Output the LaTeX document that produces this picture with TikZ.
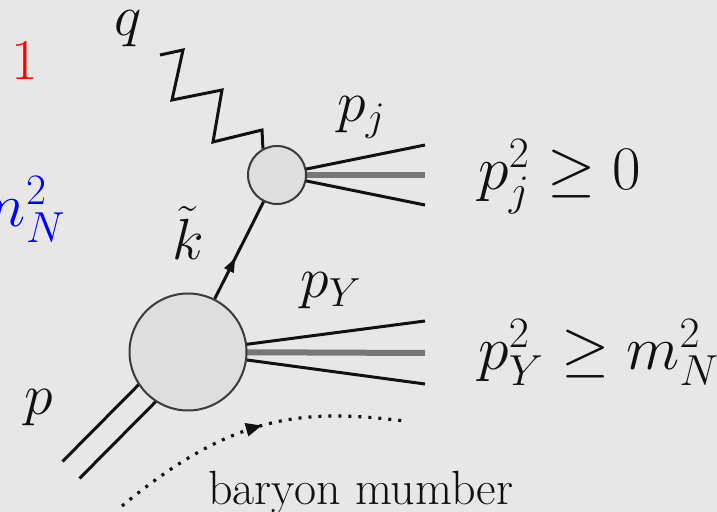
\documentclass[tikz,border=0pt]{standalone}
\usepackage{fix-cm}
\usetikzlibrary{arrows.meta,decorations.markings,calc}
\definecolor{paper}{HTML}{E7E7E7}
\definecolor{blobfill}{HTML}{DEDEDE}
\definecolor{blobline}{HTML}{3A3A3A}
\definecolor{core}{HTML}{777777}
\definecolor{ink}{HTML}{111111}

\begin{document}
\begin{tikzpicture}[
  x=0.5pt, y=-0.5pt, color=ink,
  lbl/.style={inner sep=0pt, anchor=base, font=\fontsize{29}{34}\selectfont},
  cut/.style={lbl, anchor=base west, font=\fontsize{31}{36}\selectfont},
  blob/.style={circle, draw=blobline, fill=blobfill, line width=1pt, inner sep=0pt},
  leg/.style={line width=1.5pt},
  coreleg/.style={line width=3pt, color=core},
  fermion/.style={leg, postaction={decorate}, decoration={markings,
      mark=at position 0.42 with {\arrow{Triangle[length=7pt,width=5pt]}}}},
  flow/.style={line width=1.6pt, dash pattern=on 1.5pt off 3.5pt,
      postaction={decorate}, decoration={markings,
      mark=at position 0.53 with {\arrow{Triangle[length=8pt,width=6.5pt]}}}},
]
\useasboundingbox (0,0) rectangle (717,512);
\clip (0,0) rectangle (717,512);
\fill[paper] (0,0) rectangle (717,512);

% centres and free ends
\coordinate (jc) at (277,175);
\coordinate (yc) at (188,352);
\coordinate (jtop) at (425,145);
\coordinate (jmid) at (425,175);
\coordinate (jbot) at (425,205);
\coordinate (ytop) at (425,321);
\coordinate (ymid) at (425,353);
\coordinate (ybot) at (425,384);
\coordinate (pin) at (71,470);
\coordinate (qin) at (160,55);
\coordinate (bstart) at (122,506);
\coordinate (bend) at (405,421);

% legs, hidden under the blobs
\draw[leg] (jc) -- (jtop);
\draw[coreleg] (jc) -- (jmid);
\draw[leg] (jc) -- (jbot);
\draw[leg] (yc) -- (ytop);
\draw[coreleg] (yc) -- (ymid);
\draw[leg] (yc) -- (ybot);
\draw[leg] ($(pin)+(-8.5,-8.5)$) -- ($(yc)+(-8.5,-8.5)$);
\draw[leg] ($(pin)+(8.5,8.5)$) -- ($(yc)+(8.5,8.5)$);

% blobs
\node[blob, minimum size=29pt] (jblob) at (jc) {};
\node[blob, minimum size=58.5pt] (yblob) at (yc) {};

% propagators
\draw[fermion] (yblob) -- (jblob);
\draw[leg] (qin) -- ++(23,-5) -- ++(-11,50) -- ++(50,-10) -- ++(-9,52) -- ++(49,-12) -- (jblob.118);
\draw[flow] (bstart) .. controls (235,412) and (305,409) .. (bend);

% labels
\node[lbl] (qlbl) at (128,36) {$q$};
\node[lbl, anchor=base west] (pjlbl) at (337,122) {$p_j$};
\node[lbl] (klbl) at (188,260) {$\tilde{k}$};
\node[lbl, anchor=base west] (pylbl) at (300,298) {$p_Y$};
\node[lbl] (plbl) at (39,415) {$p$};
\node[cut] (jcut) at (478,190) {$p_j^2 \geq 0$};
\node[cut] (ycut) at (478,370) {$p_Y^2 \geq m_N^2$};
\node[lbl, anchor=base west, font=\fontsize{24}{29}\selectfont] (bnum) at (208,505) {baryon mumber};
\node[lbl, text=red] (one) at (25,80) {1};
\node[lbl, anchor=base east, text=blue, font=\fontsize{31}{36}\selectfont] (mN) at (66,227) {$m_N^2$};
\end{tikzpicture}
\end{document}
